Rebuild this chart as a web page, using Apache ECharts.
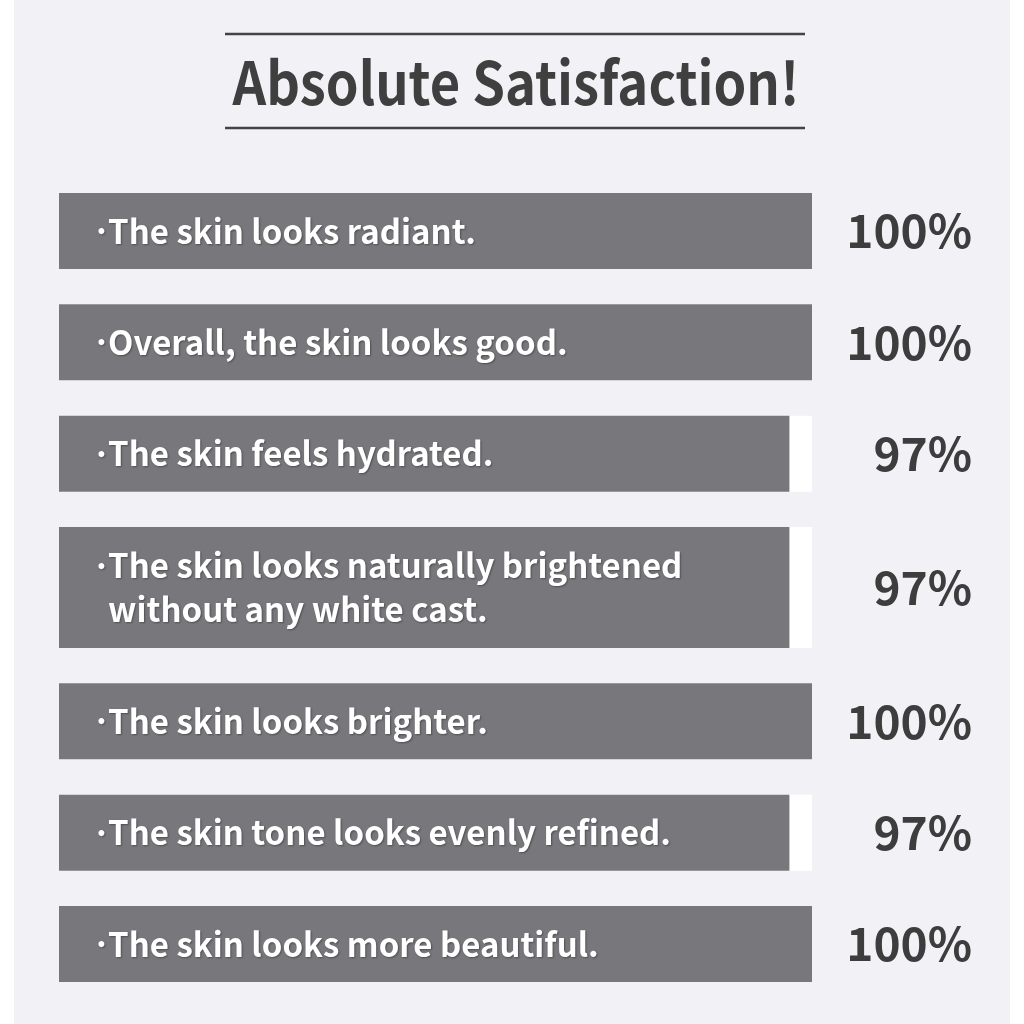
<!DOCTYPE html>
<html><head><meta charset="utf-8">
<script src="https://cdn.jsdelivr.net/npm/echarts@6/dist/echarts.min.js"></script>
<style>html,body{margin:0;padding:0;background:#fff}#c{width:1024px;height:1024px}</style>
</head><body><div id="c"></div><script>
const titleText = 'Absolute Satisfaction!';
const statements = [
  'The skin looks radiant.',
  'Overall, the skin looks good.',
  'The skin feels hydrated.',
  'The skin looks naturally brightened\nwithout any white cast.',
  'The skin looks brighter.',
  'The skin tone looks evenly refined.',
  'The skin looks more beautiful.'
];
const satisfaction = [100, 100, 97, 97, 100, 97, 100];

// row layout along the (hidden) vertical value axis, derived from line counts
const BAR_H = 76, EXTRA_LINE = 45, GAP = 35.33;
let cursor = 0;
const rows = statements.map((s, i) => {
  const lines = s.split('\n').length;
  const h = BAR_H + EXTRA_LINE * (lines - 1);
  const r = [satisfaction[i], cursor, cursor + h, i, lines];
  cursor += h + GAP;
  return r;
});
const yMax = cursor - GAP;

const FONT = '"Noto Sans CJK KR", "Noto Sans", sans-serif';
const chart = echarts.init(document.getElementById('c'));
chart.setOption({
  backgroundColor: '#ffffff',
  animation: false,
  graphic: [
    { type: 'rect', z: -10, silent: true, shape: { x: 14, y: 0, width: 996, height: 1024 }, style: { fill: '#f2f1f6' } },
    { type: 'line', shape: { x1: 225, y1: 34, x2: 805, y2: 34 }, style: { stroke: '#444', lineWidth: 2.5 } },
    { type: 'line', shape: { x1: 225, y1: 128, x2: 805, y2: 128 }, style: { stroke: '#444', lineWidth: 2.5 } },
    { type: 'text', x: 516, y: 83, scaleX: 0.89, style: { text: titleText, align: 'center', verticalAlign: 'middle', font: 'bold 59px ' + FONT, fill: '#3f3f3f' } }
  ],
  grid: { left: 59, right: 212, top: 193, bottom: 42 },
  xAxis: { type: 'value', min: 0, max: 100, show: false },
  yAxis: { type: 'value', min: 0, max: yMax, inverse: true, show: false },
  series: [{
    type: 'custom',
    data: rows,
    encode: { x: 0, y: 1 },
    renderItem(params, api) {
      const v = api.value(0), y0 = api.value(1), y1 = api.value(2), idx = api.value(3), lines = api.value(4);
      const pStart = api.coord([0, y0]);
      const pEnd = api.coord([v, y1]);
      const pFull = api.coord([100, y1]);
      const h = pEnd[1] - pStart[1];
      const yc = (pStart[1] + pEnd[1]) / 2;
      const LH = 44;
      const firstLine = yc - (lines - 1) * LH / 2;
      const shadow = { textShadowColor: 'rgba(0,0,0,0.35)', textShadowBlur: 2, textShadowOffsetX: 1, textShadowOffsetY: 1 };
      return {
        type: 'group',
        children: [
          { type: 'rect', shape: { x: pStart[0], y: pStart[1], width: pFull[0] - pStart[0], height: h }, style: { fill: '#ffffff' } },
          { type: 'rect', shape: { x: pStart[0], y: pStart[1], width: pEnd[0] - pStart[0], height: h }, style: { fill: '#78777c' } },
          { type: 'text', x: pStart[0] + 33, y: firstLine, style: Object.assign({ text: '·', align: 'left', verticalAlign: 'middle', font: 'bold 32px ' + FONT, fill: '#ffffff' }, shadow) },
          { type: 'text', x: pStart[0] + 49, y: yc, style: Object.assign({ text: statements[idx], align: 'left', verticalAlign: 'middle', font: 'bold 33px ' + FONT, lineHeight: LH, fill: '#ffffff' }, shadow) },
          { type: 'text', x: pFull[0] + 160, y: yc, style: { text: v + '%', align: 'right', verticalAlign: 'middle', font: 'bold 46px ' + FONT, fill: '#3d3d3d' } }
        ]
      };
    }
  }]
});
</script></body></html>
